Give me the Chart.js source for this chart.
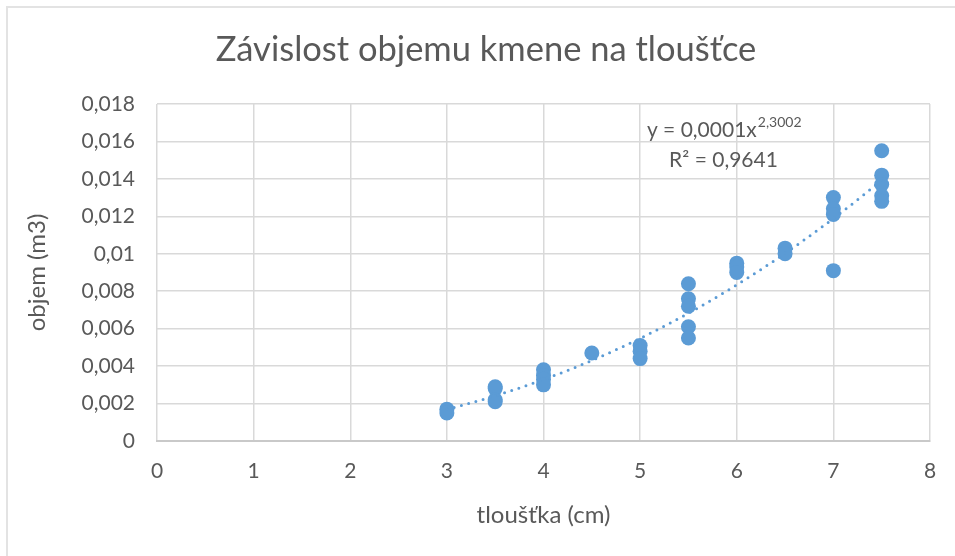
<!DOCTYPE html>
<html>
<head>
<meta charset="utf-8">
<script src="https://cdn.jsdelivr.net/npm/chart.js@4"></script>
<style>
  html, body { margin: 0; padding: 0; background: #fff; overflow: hidden; width: 955px; height: 556px; }
  #frame { position: absolute; left: 6px; top: 6px; width: 1000px; height: 600px; border: 2px solid #e3e3e3; box-sizing: border-box; }
  #wrap { position: absolute; left: 0; top: 0; width: 972px; height: 556px; }
</style>
</head>
<body>
<div id="frame"></div>
<div id="wrap"><canvas id="c" width="972" height="556"></canvas></div>
<script>
// ---- data ----
const thickness = [3, 3, 3.5, 3.5, 3.5, 3.5, 4, 4, 4, 4, 4.5, 5, 5, 5,
  5.5, 5.5, 5.5, 5.5, 5.5, 6, 6, 6, 6.5, 6.5, 7, 7, 7, 7, 7.5, 7.5, 7.5, 7.5, 7.5];
const volume = [0.0017, 0.0015, 0.0029, 0.0028, 0.0022, 0.0021, 0.0038, 0.0035, 0.0033, 0.0030,
  0.0047, 0.0051, 0.0048, 0.0044, 0.0084, 0.0076, 0.0072, 0.0061, 0.0055,
  0.0095, 0.0093, 0.0090, 0.0103, 0.0100, 0.0130, 0.0124, 0.0121, 0.0091,
  0.0155, 0.0142, 0.0137, 0.0131, 0.0128];
const xTickLabels = ['0', '1', '2', '3', '4', '5', '6', '7', '8'];
const yTickLabels = ['0', '0,002', '0,004', '0,006', '0,008', '0,01', '0,012', '0,014', '0,016', '0,018'];
const titleText = 'Závislost objemu kmene na tloušťce';
const xTitle = 'tloušťka (cm)';
const yTitle = 'objem (m3)';
const eqMain = 'y = 0,0001x';
const eqExp = '2,3002';
const eqR2 = 'R² = 0,9641';

// power trendline (least squares in log-log space, as a spreadsheet does)
const lx = thickness.map(Math.log), ly = volume.map(Math.log);
const n = lx.length;
const mx = lx.reduce((a, b) => a + b, 0) / n, my = ly.reduce((a, b) => a + b, 0) / n;
let sxy = 0, sxx = 0;
for (let i = 0; i < n; i++) { sxy += (lx[i] - mx) * (ly[i] - my); sxx += (lx[i] - mx) ** 2; }
const pb = sxy / sxx, pa = Math.exp(my - pb * mx);
const xMin = Math.min(...thickness), xMax = Math.max(...thickness);
const trend = [];
for (let k = 0; k <= 90; k++) { const x = xMin + (xMax - xMin) * k / 90; trend.push({ x, y: pa * Math.pow(x, pb) }); }

const FONT = 'Lato, "Open Sans", sans-serif';
const GREY = '#595959';
const BLUE = '#5B9BD5';

const textPlugin = {
  id: 'texts',
  afterDraw(chart) {
    const { ctx } = chart;
    ctx.save();
    ctx.fillStyle = GREY;
    ctx.textAlign = 'center';
    ctx.textBaseline = 'middle';
    ctx.font = '34.5px ' + FONT;
    ctx.fillText(titleText, 486, 50);
    ctx.restore();
  },
  afterDatasetsDraw(chart) {
    const { ctx } = chart;
    const xs = chart.scales.x, ys = chart.scales.y;
    ctx.save();
    ctx.fillStyle = GREY;
    ctx.textBaseline = 'alphabetic';
    ctx.font = '21px ' + FONT;
    const x0 = xs.getPixelForValue(5.07);
    const y0 = ys.getPixelForValue(0.01623);
    ctx.fillText(eqMain, x0, y0);
    const w = ctx.measureText(eqMain).width;
    ctx.font = '14px ' + FONT;
    ctx.fillText(eqExp, x0 + w + 1, y0 - 10);
    ctx.font = '21px ' + FONT;
    ctx.fillText(eqR2, xs.getPixelForValue(5.3), ys.getPixelForValue(0.01465));
    ctx.restore();
  }
};

new Chart(document.getElementById('c'), {
  type: 'scatter',
  data: {
    datasets: [
      {
        label: 'trend', type: 'line', data: trend, showLine: true, fill: false,
        borderColor: BLUE, borderWidth: 3, borderDash: [0, 7.5], borderCapStyle: 'round',
        pointRadius: 0, tension: 0, order: 0
      },
      {
        label: 'objem', data: thickness.map((x, i) => ({ x, y: volume[i] })),
        backgroundColor: BLUE, borderColor: BLUE, pointRadius: 7.5, pointBorderWidth: 0, order: 1
      }
    ]
  },
  options: {
    responsive: false, animation: false,
    layout: { padding: { left: 0, right: 42, top: 104, bottom: 0 } },
    plugins: {
      legend: { display: false }, tooltip: { enabled: false },
      title: { display: false }
    },
    scales: {
      x: {
        type: 'linear', min: 0, max: 8,
        afterFit: s => { s.height = 115; },
        afterBuildTicks: s => { s.ticks = xTickLabels.map(v => ({ value: +v })); },
        ticks: { color: GREY, font: { family: FONT, size: 21 }, padding: 18, maxRotation: 0,
          callback: (v, i) => xTickLabels[i] },
        grid: { color: '#d9d9d9', lineWidth: 1.5, drawTicks: false },
        border: { display: true, color: '#c9c9c9', width: 2 },
        title: { display: true, text: xTitle, color: GREY, font: { family: FONT, size: 24 }, padding: { top: 0, bottom: 26 } }
      },
      y: {
        type: 'linear', min: 0, max: 0.018,
        afterFit: s => { s.width = 157; },
        afterBuildTicks: s => { s.ticks = yTickLabels.map((t, i) => ({ value: i * 0.002 })); },
        ticks: { color: GREY, font: { family: FONT, size: 21 }, padding: 22,
          callback: (v, i) => yTickLabels[i] },
        grid: { color: '#d9d9d9', lineWidth: 1.5, drawTicks: false },
        border: { display: false },
        title: { display: true, text: yTitle, color: GREY, font: { family: FONT, size: 24 }, padding: { top: 23, bottom: 0 } }
      }
    }
  },
  plugins: [textPlugin]
});
</script>
</body>
</html>
